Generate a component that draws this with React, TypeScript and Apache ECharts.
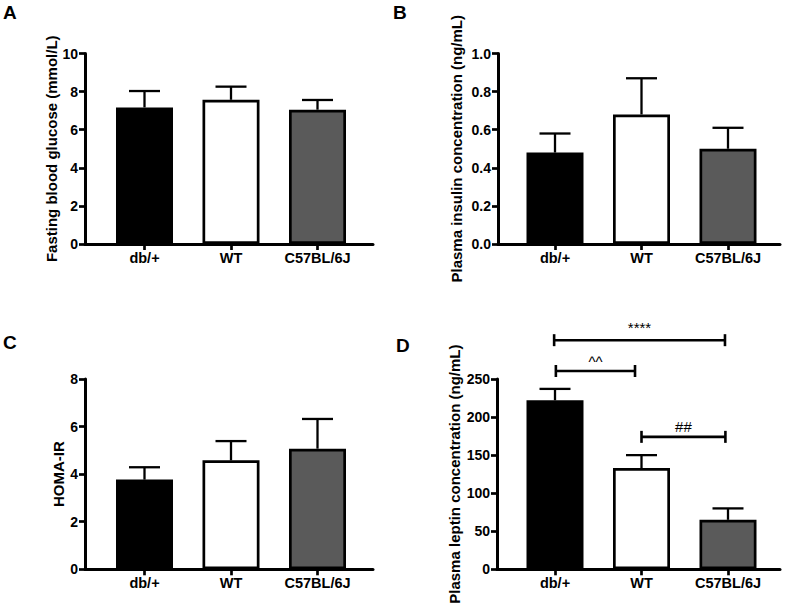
import React, { useEffect, useRef } from "react";
import * as echarts from "echarts";

// ---------- data ----------
const categories = ["db/+", "WT", "C57BL/6J"];
const barColors = ["#000000", "#ffffff", "#5a5a5a"];

const glucoseMean = [7.17, 7.57, 7.05];
const glucoseSem = [0.86, 0.69, 0.51];

const insulinMean = [0.48, 0.68, 0.5];
const insulinSem = [0.1, 0.19, 0.11];

const homaMean = [3.77, 4.58, 5.07];
const homaSem = [0.52, 0.81, 1.25];

const leptinMean = [222, 133, 65];
const leptinSem = [15, 17, 15];

const glucoseTicks = { max: 10, interval: 2 };
const insulinTicks = { max: 1, interval: 0.2 };
const homaTicks = { max: 8, interval: 2 };
const leptinTicks = { max: 250, interval: 50 };

// significance brackets for panel D (category index units, value units)
const bracketFrom = [-0.01, 0.01, 1.0];
const bracketTo = [1.965, 0.925, 1.97];
const bracketY = [301, 260.5, 174];
const bracketText = ["****", "^^", "##"];

// ---------- styles / layout ----------
const FONT = "'Liberation Sans', Arial, Helvetica, sans-serif";
const bracketLabelGap = [13, 9.5, 10.5];
const CAT_SPACING = 86.5;

type Panel = {
  left: number;
  top: number;
  width: number;
  height: number;
  firstCenter: number;
  name: string;
  nameGap: number;
  mean: number[];
  sem: number[];
  ticks: { max: number; interval: number };
  decimals: number;
  letter: string;
  letterX: number;
  letterY: number;
};

const panels: Panel[] = [
  { left: 85, top: 53.5, width: 288, height: 190.5, firstCenter: 144.5, name: "Fasting blood glucose (mmol/L)", nameGap: 26, mean: glucoseMean, sem: glucoseSem, ticks: glucoseTicks, decimals: 0, letter: "A", letterX: 3, letterY: 3 },
  { left: 498, top: 53.5, width: 282, height: 190.5, firstCenter: 555, name: "Plasma insulin concentration (ng/mL)", nameGap: 34, mean: insulinMean, sem: insulinSem, ticks: insulinTicks, decimals: 1, letter: "B", letterX: 393, letterY: 3 },
  { left: 85, top: 379, width: 288, height: 190.3, firstCenter: 144.5, name: "HOMA-IR", nameGap: 19, mean: homaMean, sem: homaSem, ticks: homaTicks, decimals: 0, letter: "C", letterX: 3, letterY: 333 },
  { left: 497, top: 379, width: 283, height: 190.3, firstCenter: 555, name: "Plasma leptin concentration (ng/mL)", nameGap: 35, mean: leptinMean, sem: leptinSem, ticks: leptinTicks, decimals: 0, letter: "D", letterX: 396, letterY: 336 },
];

function buildOption() {
  const grid: any[] = [];
  const xAxis: any[] = [];
  const yAxis: any[] = [];
  const series: any[] = [];
  const graphic: any[] = [];

  panels.forEach((p, i) => {
    grid.push({ left: p.left, top: p.top, width: p.width, height: p.height, containLabel: false });
    xAxis.push({
      type: "value",
      gridIndex: i,
      min: (p.left - p.firstCenter) / CAT_SPACING,
      max: (p.left + p.width - p.firstCenter) / CAT_SPACING,
      splitLine: { show: false },
      axisLine: { show: true, onZero: false, lineStyle: { color: "#000", width: 3 } },
      axisTick: { show: true, customValues: [0, 1, 2], length: 6, lineStyle: { color: "#000", width: 2.7 } },
      axisLabel: {
        show: true,
        customValues: [0, 1, 2],
        formatter: (v: number) => categories[Math.round(v)] ?? "",
        margin: 6,
        color: "#000",
        fontFamily: FONT,
        fontWeight: "bold",
        fontSize: 14.5,
      },
    });
    yAxis.push({
      type: "value",
      gridIndex: i,
      min: 0,
      max: p.ticks.max,
      interval: p.ticks.interval,
      name: p.name,
      nameLocation: "middle",
      nameGap: p.nameGap,
      nameTextStyle: { color: "#000", fontFamily: FONT, fontWeight: "bold", fontSize: 15 },
      splitLine: { show: false },
      axisLine: { show: true, onZero: false, lineStyle: { color: "#000", width: 3 } },
      axisTick: { show: true, length: 6, lineStyle: { color: "#000", width: 2.7 } },
      axisLabel: {
        color: "#000",
        fontFamily: FONT,
        fontWeight: "bold",
        fontSize: 14,
        margin: 7,
        formatter: (v: number) => v.toFixed(p.decimals),
      },
    });

    series.push({
      type: "bar",
      xAxisIndex: i,
      yAxisIndex: i,
      barWidth: 57,
      data: p.mean.map((m, k) => ({
        value: [k, m],
        itemStyle: { color: barColors[k], borderColor: "#000", borderWidth: 2.7 },
      })),
      z: 2,
    });

    series.push({
      type: "custom",
      xAxisIndex: i,
      yAxisIndex: i,
      encode: { x: 0, y: 1 },
      data: p.mean.map((m, k) => [k, m, p.sem[k]]),
      z: 3,
      renderItem: (params: any, api: any) => {
        const x = api.value(0);
        const m = api.value(1);
        const e = api.value(2);
        const base = api.coord([x, m]);
        const top = api.coord([x, m + e]);
        const ls = { stroke: "#000", lineWidth: 2.3 };
        return {
          type: "group",
          children: [
            { type: "line", shape: { x1: base[0], y1: base[1], x2: top[0], y2: top[1] }, style: ls },
            { type: "line", shape: { x1: top[0] - 15.5, y1: top[1], x2: top[0] + 15.5, y2: top[1] }, style: ls },
          ],
        };
      },
    });

    graphic.push({
      type: "text",
      left: p.letterX,
      top: p.letterY,
      style: { text: p.letter, fill: "#000", fontFamily: FONT, fontWeight: "bold", fontSize: 19 },
    });
  });

  // brackets on panel D
  series.push({
    type: "custom",
    xAxisIndex: 3,
    yAxisIndex: 3,
    clip: false,
    encode: { x: 0, y: 2 },
    data: bracketFrom.map((f, k) => [f, bracketTo[k], bracketY[k], k]),
    z: 4,
    renderItem: (params: any, api: any) => {
      const a = api.coord([api.value(0), api.value(2)]);
      const b = api.coord([api.value(1), api.value(2)]);
      const k = api.value(3);
      const ls = { stroke: "#000", lineWidth: 2.6 };
      return {
        type: "group",
        children: [
          { type: "line", shape: { x1: a[0], y1: a[1], x2: b[0], y2: b[1] }, style: ls },
          { type: "line", shape: { x1: a[0], y1: a[1] - 6, x2: a[0], y2: a[1] + 6 }, style: ls },
          { type: "line", shape: { x1: b[0], y1: b[1] - 6, x2: b[0], y2: b[1] + 6 }, style: ls },
          {
            type: "text",
            style: {
              text: bracketText[k],
              x: (a[0] + b[0]) / 2,
              y: a[1] - bracketLabelGap[k],
              align: "center",
              verticalAlign: "middle",
              fill: "#000",
              fontFamily: FONT,
              fontSize: 15,
            },
          },
        ],
      };
    },
  });

  return {
    animation: false,
    backgroundColor: "#ffffff",
    grid,
    xAxis,
    yAxis,
    series,
    graphic,
  };
}

export default function App() {
  const ref = useRef<HTMLDivElement>(null);
  useEffect(() => {
    if (!ref.current) return;
    const chart = echarts.init(ref.current, null, { renderer: "svg" });
    chart.setOption(buildOption() as any);
    return () => chart.dispose();
  }, []);
  return (
    <div
      ref={ref}
      style={{ position: "absolute", left: 0, top: 0, width: 787, height: 609, background: "#fff" }}
    />
  );
}
